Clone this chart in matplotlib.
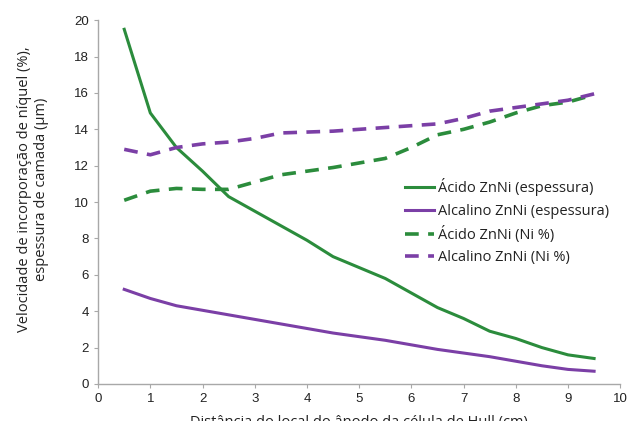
#!/usr/bin/env python3

import numpy as np
from matplotlib import pyplot as plt

# distancia (cm)
x = [0.5, 1, 1.5, 2, 2.5, 3, 3.5, 4, 4.5, 5, 5.5, 6, 6.5, 7, 7.5, 8, 8.5, 9, 9.5]

acido_esp = [19.5, 14.9, 13.0, 11.7, 10.3, 9.5, 8.7, 7.9, 7.0, 6.4,
             5.8, 5.0, 4.2, 3.6, 2.9, 2.5, 2.0, 1.6, 1.4]
alcalino_esp = [5.2, 4.7, 4.3, 4.05, 3.8, 3.55, 3.3, 3.05, 2.8, 2.6,
                2.4, 2.15, 1.9, 1.7, 1.5, 1.25, 1.0, 0.8, 0.7]
acido_ni = [10.1, 10.6, 10.75, 10.7, 10.7, 11.1, 11.5, 11.7, 11.9, 12.15,
            12.4, 13.0, 13.7, 14.0, 14.4, 14.9, 15.3, 15.5, 15.9]
alcalino_ni = [12.9, 12.6, 13.0, 13.2, 13.3, 13.5, 13.8, 13.85, 13.9, 14.0,
               14.1, 14.2, 14.3, 14.6, 15.0, 15.2, 15.4, 15.6, 15.95]

labels = ['Ácido ZnNi (espessura)', 'Alcalino ZnNi (espessura)',
          'Ácido ZnNi (Ni %)', 'Alcalino ZnNi (Ni %)']

verde = '#2b8c3c'
roxo = '#7b3fa6'


def main():
    fig = plt.figure(figsize=(6.29, 4.21), dpi=100)
    ax = fig.add_axes([0.156, 0.088, 0.83, 0.864])

    dash = (0, (3.8, 2.6))
    ax.plot(x, acido_esp, color=verde, lw=2.2, label=labels[0])
    ax.plot(x, alcalino_esp, color=roxo, lw=2.2, label=labels[1])
    ax.plot(x, acido_ni, color=verde, lw=2.6, ls=dash, label=labels[2])
    ax.plot(x, alcalino_ni, color=roxo, lw=2.6, ls=dash, label=labels[3])

    ax.set_xlim(0, 10)
    ax.set_ylim(0, 20)
    ax.set_xticks(np.arange(0, 11, 1))
    ax.set_yticks(np.arange(0, 21, 2))

    for s in ['top', 'right']:
        ax.spines[s].set_visible(False)
    for s in ['left', 'bottom']:
        ax.spines[s].set_color('#a8a8a8')
        ax.spines[s].set_linewidth(1.0)
    ax.tick_params(axis='both', colors='#a8a8a8', length=3, width=0.8,
                   labelcolor='#222222', labelsize=9.5)
    for t in ax.get_xticklabels() + ax.get_yticklabels():
        t.set_family('Liberation Sans')

    ax.set_ylabel('Velocidade de incorporação de níquel (%),\nespessura de camada (µm)',
                  fontsize=10.5, family='Open Sans', color='#222222')
    ax.yaxis.set_label_coords(-0.094, 0.535)
    ax.set_xlabel('Distância do local do ânodo da célula de Hull (cm)',
                  fontsize=10.5, family='Open Sans', color='#222222', labelpad=7)

    leg = ax.legend(loc='upper left', bbox_to_anchor=(0.587, 0.565), frameon=False,
                    prop={'family': 'Open Sans', 'size': 10.5},
                    handlelength=2.0, handletextpad=0.3, labelspacing=0.5,
                    borderaxespad=0, borderpad=0)
    for t in leg.get_texts():
        t.set_color('#222222')

    plt.savefig('out.png', dpi=100)
    plt.clf()


if __name__ == '__main__':
    main()
